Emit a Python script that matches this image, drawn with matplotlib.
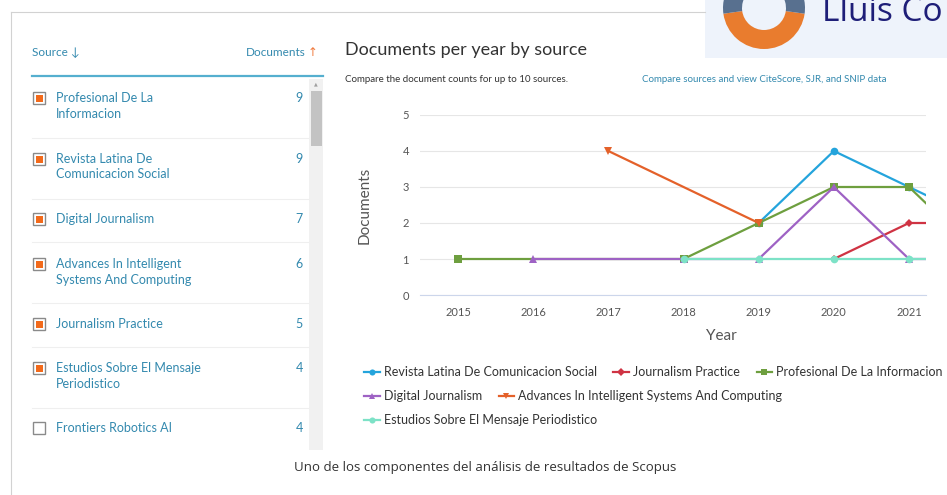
import matplotlib.pyplot as plt
import numpy as np
from matplotlib.patches import Rectangle, Wedge
from matplotlib.lines import Line2D

plt.rcParams['font.family'] = ['Lato', 'DejaVu Sans']

# --- data ---
years = np.array([2015, 2016, 2017, 2018, 2019, 2020, 2021, 2022])
nan = np.nan
revista = [nan, nan, nan, nan, 2, 4, 3, 2]
journalism_practice = [nan, nan, nan, nan, nan, 1, 2, 2]
profesional = [1, nan, nan, 1, 2, 3, 3, 1]
digital_journalism = [nan, 1, nan, 1, 1, 3, 1, 1]
advances = [nan, nan, 4, nan, 2, nan, nan, nan]
estudios = [nan, nan, nan, 1, 1, 1, 1, 1]

series_names = ['Revista Latina De Comunicacion Social', 'Journalism Practice',
                'Profesional De La Informacion', 'Digital Journalism',
                'Advances In Intelligent Systems And Computing',
                'Estudios Sobre El Mensaje Periodistico']
series_values = [revista, journalism_practice, profesional, digital_journalism,
                 advances, estudios]
colors = ['#24A4DC', '#CF3343', '#6E9F3F', '#9E62C4', '#E4612A', '#7DE2C7']
markers = ['o', 'D', 's', '^', 'v', 'o']

sources = ['Profesional De La\nInformacion', 'Revista Latina De\nComunicacion Social',
           'Digital Journalism', 'Advances In Intelligent\nSystems And Computing',
           'Journalism Practice', 'Estudios Sobre El Mensaje\nPeriodistico',
           'Frontiers Robotics AI']
source_docs = [9, 9, 7, 6, 5, 4, 4]
source_checked = [True, True, True, True, True, True, False]

teal = '#3389AE'
grey_txt = '#555555'

fig = plt.figure(figsize=(9.47, 4.95), dpi=100)

# pixel canvas for the page furniture (y grows downward)
bg = fig.add_axes([0, 0, 1, 1])
bg.set_xlim(0, 947)
bg.set_ylim(495, 0)
bg.axis('off')

# frame lines
bg.plot([11, 705], [12, 12], color='#D2D2D2', lw=0.8)
bg.plot([11, 11], [12, 495], color='#D2D2D2', lw=0.8)

# logo box top-right (cut by the screenshot edge)
bg.add_patch(Rectangle((705, 0), 242, 58, color='#EEF3FB', lw=0))
bg.add_patch(Wedge((764, 8), 41, 8, 172, width=19, color='#E97C2E', lw=0))
bg.add_patch(Wedge((764, 8), 41, 172, 368, width=19, color='#58708F', lw=0))
bg.text(822, 21, 'Lluis Co', fontsize=24, color='#1E1E78', ha='left', va='baseline',
        family=['Open Sans', 'DejaVu Sans'])

# left panel header
bg.text(32, 53, 'Source \u2193', fontsize=8.5, color=teal, va='center', ha='left')
bg.text(306, 53, 'Documents', fontsize=8.5, color=teal, va='center', ha='right')
bg.text(308, 53, '\u2191', fontsize=8.5, color='#F07B3F', va='center', ha='left',
        family=['DejaVu Sans'])
bg.plot([32, 323], [76, 76], color='#55AFCF', lw=1.6)

# scrollbar
bg.add_patch(Rectangle((309, 79), 14, 371, color='#F1F1F1', lw=0))
bg.add_patch(Rectangle((311, 91), 11, 55, color='#C3C3C3', lw=0))
bg.text(316, 84, '\u25B2', fontsize=3.5, color='#A0A0A0', ha='center', va='center',
        family=['DejaVu Sans'])

# source list
row_y = [98, 159, 219, 264, 324, 368, 428]
sep_y = [138, 199, 242, 303, 347, 408]
for y in sep_y:
    bg.plot([32, 308], [y, y], color='#EFEFEF', lw=0.8)
for name, n, chk, y in zip(sources, source_docs, source_checked, row_y):
    bg.add_patch(Rectangle((33, y - 6), 12, 12, facecolor='white', edgecolor='#8A8A8A', lw=1.0))
    if chk:
        bg.add_patch(Rectangle((35.5, y - 3.5), 7, 7, color='#F26A1B', lw=0))
    bg.text(56, y - 6, name, fontsize=9, color=teal, va='top', ha='left', linespacing=1.35)
    bg.text(303, y, str(n), fontsize=9, color=teal, va='center', ha='right')

# chart header texts
bg.text(345, 50, 'Documents per year by source', fontsize=13, color='#333333',
        va='center', ha='left')
bg.text(345, 79, 'Compare the document counts for up to 10 sources.', fontsize=7,
        color='#333333', va='center', ha='left')
bg.text(642, 79, 'Compare sources and view CiteScore, SJR, and SNIP data', fontsize=7,
        color=teal, va='center', ha='left')

# caption
bg.text(485, 467, 'Uno de los componentes del análisis de resultados de Scopus', fontsize=9.5,
        color='#333333', va='center', ha='center', family=['Open Sans', 'DejaVu Sans'])

# --- the chart itself ---
ax = fig.add_axes([420 / 947, 1 - 295 / 495, 506 / 947, 180 / 495])
ax.patch.set_alpha(0)
handles = []
for name, vals, c, m in zip(series_names, series_values, colors, markers):
    v = np.array(vals, dtype=float)
    ok = ~np.isnan(v)
    ms = 4.5 if m == 'D' else 5.5
    line, = ax.plot(years[ok], v[ok], color=c, marker=m, lw=1.6, ms=ms,
                    markeredgewidth=0)
    handles.append(line)

ax.set_xlim(2014.494, 2021.226)
ax.set_ylim(0, 5)
ax.set_xticks(years[:-1])
ax.set_yticks(range(6))
ax.yaxis.grid(True, color='#E6E6E6', lw=0.8)
ax.set_axisbelow(True)
for s in ['top', 'right', 'left']:
    ax.spines[s].set_visible(False)
ax.spines['bottom'].set_color('#CCD6EB')
ax.tick_params(length=0, labelsize=8, labelcolor='#555555')
ax.tick_params(axis='y', pad=8)
ax.tick_params(axis='x', pad=9)
ax.set_ylabel('Documents', fontsize=11, color=grey_txt)
ax.yaxis.set_label_coords(-0.095, 0.5)
ax.set_xlabel('Year', fontsize=11, color=grey_txt)
ax.xaxis.set_label_coords(0.595, -0.19)

# legend rows laid out like the web chart
rows = [[0, 1, 2], [3, 4], [5]]
row_pos = [372, 396, 420]
for idx, y in zip(rows, row_pos):
    leg = fig.legend([handles[i] for i in idx], [series_names[i] for i in idx],
                     loc='center left', bbox_to_anchor=(364, y),
                     bbox_transform=bg.transData, ncol=len(idx), frameon=False,
                     fontsize=9, handlelength=1.25, handletextpad=0.35,
                     columnspacing=1.3, borderpad=0, borderaxespad=0, markerscale=0.8)
    for t in leg.get_texts():
        t.set_color('#333333')

fig.savefig('out.png', dpi=100)
